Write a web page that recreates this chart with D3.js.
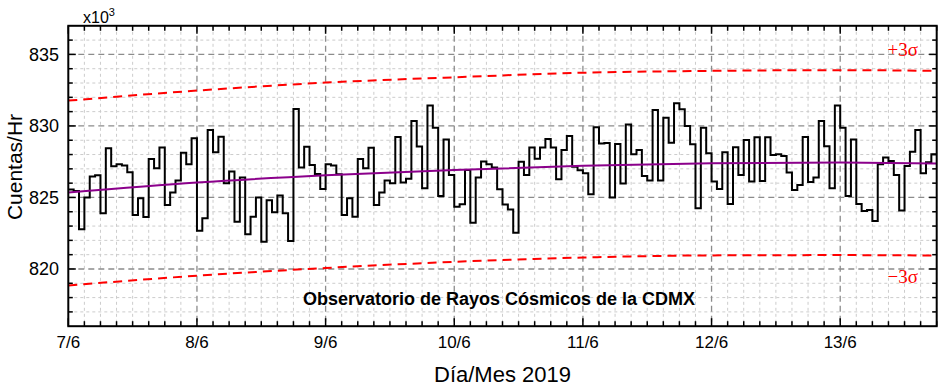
<!DOCTYPE html>
<html><head><meta charset="utf-8">
<script src="https://cdn.jsdelivr.net/npm/d3@7"></script>
<style>body{margin:0;background:#fff}svg{display:block}</style>
</head><body><svg id="c" width="951" height="391"></svg>
<script>
// hourly counts (x10^3 cuentas/hr) starting 2019-06-07 00:00
const startTime = "2019-06-07T00:00:00Z";
const counts = [
825.55,825.45,822.77,825.00,826.46,826.55,823.90,828.44,827.18,827.32,827.23,826.76,823.78,824.94,823.64,827.69,827.04,828.50,824.48,825.34,826.18,828.13,827.32,829.14,
822.68,823.54,829.72,828.16,829.25,825.99,826.81,823.31,826.39,822.42,823.66,824.99,821.91,824.80,823.96,825.13,823.89,821.96,831.19,827.09,828.55,827.27,826.64,825.59,
827.32,827.23,826.62,823.78,824.94,823.66,827.68,827.04,828.48,824.48,825.34,826.18,826.00,829.22,826.05,826.30,830.35,828.57,825.64,831.43,829.88,825.10,829.05,826.57,
824.35,824.53,826.92,823.24,826.40,827.52,827.33,827.10,825.57,824.50,824.15,822.54,827.50,826.57,828.50,827.70,828.50,829.08,828.50,826.28,828.32,829.29,827.15,826.90,
826.69,825.22,829.90,828.77,828.80,825.00,828.73,825.97,830.10,828.02,828.32,826.50,826.18,831.12,826.18,830.58,828.83,831.59,831.17,830.00,828.72,824.24,829.88,828.09,
826.11,825.59,828.16,824.55,828.51,826.57,829.02,826.11,829.21,826.15,829.21,827.97,828.02,827.90,826.75,825.53,825.87,829.23,826.08,826.40,830.35,828.58,825.64,831.43,
829.88,825.10,829.05,824.55,824.06,824.13,823.36,827.32,827.79,827.55,826.57,824.08,827.20,828.20,829.72,826.69,827.46,828.02
];
// fitted trend and +/-3 sigma bands, sampled at day offsets
const bandDays = [0, 1, 2, 3, 4, 5, 6, 6.75];
const trend = [825.34, 826.04, 826.55, 826.92, 827.22, 827.39, 827.44, 827.38];
const upper3s = [831.77, 832.47, 833.03, 833.40, 833.72, 833.85, 833.90, 833.85];
const lower3s = [818.85, 819.53, 820.07, 820.50, 820.80, 820.95, 820.97, 820.94];
const yTicks = [820, 825, 830, 835];
const xTickLabels = ["7/6", "8/6", "9/6", "10/6", "11/6", "12/6", "13/6"];
const endTime = "2019-06-13T18:00:00Z";

const svg = d3.select("#c");
const L = 68.3, R = 936.7, T = 25.8, B = 326.2;
const t0 = new Date(startTime), t1 = new Date(endTime);
const HOUR = 3600e3, DAY = 24 * HOUR;
const x = d3.scaleUtc().domain([t0, t1]).range([L, R]);
const y = d3.scaleLinear().domain([816, 837]).range([B, T]);

const g = svg.append("g");
// grid
const minorX = d3.range(0, 6.75 * 24 + 0.01, 3).map(h => new Date(+t0 + h * HOUR)).filter(d => (+d - +t0) % DAY !== 0);
const majorX = d3.range(0, 7).map(d => new Date(+t0 + d * DAY));
const minorY = d3.range(817, 837, 1).filter(v => v % 5 !== 0);
g.selectAll(".mgx").data(minorX).join("line").attr("x1", d => x(d)).attr("x2", d => x(d)).attr("y1", T).attr("y2", B)
  .attr("stroke", "#cccccc").attr("stroke-width", 1).attr("stroke-dasharray", "3,3");
g.selectAll(".mgy").data(minorY).join("line").attr("x1", L).attr("x2", R).attr("y1", d => y(d)).attr("y2", d => y(d))
  .attr("stroke", "#cccccc").attr("stroke-width", 1).attr("stroke-dasharray", "3,3");
g.selectAll(".Mgx").data(majorX.slice(1)).join("line").attr("x1", d => x(d)).attr("x2", d => x(d)).attr("y1", T).attr("y2", B)
  .attr("stroke", "#8c8c8c").attr("stroke-width", 1.3).attr("stroke-dasharray", "6,4");
g.selectAll(".Mgy").data(yTicks).join("line").attr("x1", L).attr("x2", R).attr("y1", d => y(d)).attr("y2", d => y(d))
  .attr("stroke", "#8c8c8c").attr("stroke-width", 1.3).attr("stroke-dasharray", "6,4");

// bands
const bandLine = arr => d3.line().x((d, i) => x(new Date(+t0 + bandDays[i] * DAY))).y(d => y(d)).curve(d3.curveMonotoneX)(arr);
g.append("path").attr("d", bandLine(upper3s)).attr("fill", "none").attr("stroke", "#ff0000").attr("stroke-width", 2).attr("stroke-dasharray", "9,6");
g.append("path").attr("d", bandLine(lower3s)).attr("fill", "none").attr("stroke", "#ff0000").attr("stroke-width", 2).attr("stroke-dasharray", "9,6");

// histogram
const pts = counts.map((v, i) => [new Date(+t0 + i * HOUR), v]);
pts.push([new Date(+t0 + counts.length * HOUR), counts[counts.length - 1]]);
g.append("path").attr("d", d3.line().x(d => x(d[0])).y(d => y(d[1])).curve(d3.curveStepAfter)(pts))
  .attr("fill", "none").attr("stroke", "#000").attr("stroke-width", 2);

// trend
g.append("path").attr("d", bandLine(trend)).attr("fill", "none").attr("stroke", "#8b008b").attr("stroke-width", 2);

// axes with inward ticks
const axFont = "'Liberation Sans', Arial, sans-serif";
function ticksX(yy, dir) {
  g.selectAll(null).data(minorX).join("line").attr("x1", d => x(d)).attr("x2", d => x(d)).attr("y1", yy).attr("y2", yy + dir * 5).attr("stroke", "#000").attr("stroke-width", 1.5);
  g.selectAll(null).data(majorX).join("line").attr("x1", d => x(d)).attr("x2", d => x(d)).attr("y1", yy).attr("y2", yy + dir * 8).attr("stroke", "#000").attr("stroke-width", 1.5);
}
function ticksY(xx, dir) {
  g.selectAll(null).data(minorY).join("line").attr("y1", d => y(d)).attr("y2", d => y(d)).attr("x1", xx).attr("x2", xx + dir * 4.5).attr("stroke", "#000").attr("stroke-width", 1.5);
  g.selectAll(null).data(yTicks).join("line").attr("y1", d => y(d)).attr("y2", d => y(d)).attr("x1", xx).attr("x2", xx + dir * 7.5).attr("stroke", "#000").attr("stroke-width", 1.5);
}
ticksX(B, -1); ticksX(T, 1); ticksY(L, 1); ticksY(R, -1);
g.append("rect").attr("x", L).attr("y", T).attr("width", R - L).attr("height", B - T).attr("fill", "none").attr("stroke", "#000").attr("stroke-width", 2);

// tick labels
g.selectAll(".yl").data(yTicks).join("text").attr("x", 59).attr("y", d => y(d)).attr("dy", "0.36em")
  .attr("text-anchor", "end").attr("font-family", axFont).attr("font-size", 18).text(d => d);
g.selectAll(".xl").data(majorX).join("text").attr("x", d => x(d)).attr("y", 348)
  .attr("text-anchor", "middle").attr("font-family", axFont).attr("font-size", 17).text((d, i) => xTickLabels[i]);
const mult = g.append("text").attr("x", 83).attr("y", 23).attr("font-family", axFont).attr("font-size", 16);
mult.append("tspan").text("x10");
mult.append("tspan").attr("dy", -7).attr("font-size", 11).text("3");

// axis titles
g.append("text").attr("x", (L + R) / 2).attr("y", 382).attr("text-anchor", "middle").attr("font-family", axFont).attr("font-size", 22).text("Día/Mes 2019");
g.append("text").attr("transform", `translate(22,167) rotate(-90)`).attr("text-anchor", "middle").attr("font-family", axFont).attr("font-size", 21).text("Cuentas/Hr");

// annotations
g.append("text").attr("x", 499).attr("y", 305).attr("text-anchor", "middle").attr("font-family", axFont).attr("font-weight", "bold").attr("font-size", 18)
  .text("Observatorio de Rayos Cósmicos de la CDMX");
const serif = "'Liberation Serif', 'Times New Roman', serif";
g.append("text").attr("x", 918).attr("y", 56).attr("text-anchor", "end").attr("font-family", serif).attr("font-size", 19).attr("fill", "#ff0000").text("+3σ");
g.append("text").attr("x", 918).attr("y", 283).attr("text-anchor", "end").attr("font-family", serif).attr("font-size", 19).attr("fill", "#ff0000").text("−3σ");
</script></body></html>
